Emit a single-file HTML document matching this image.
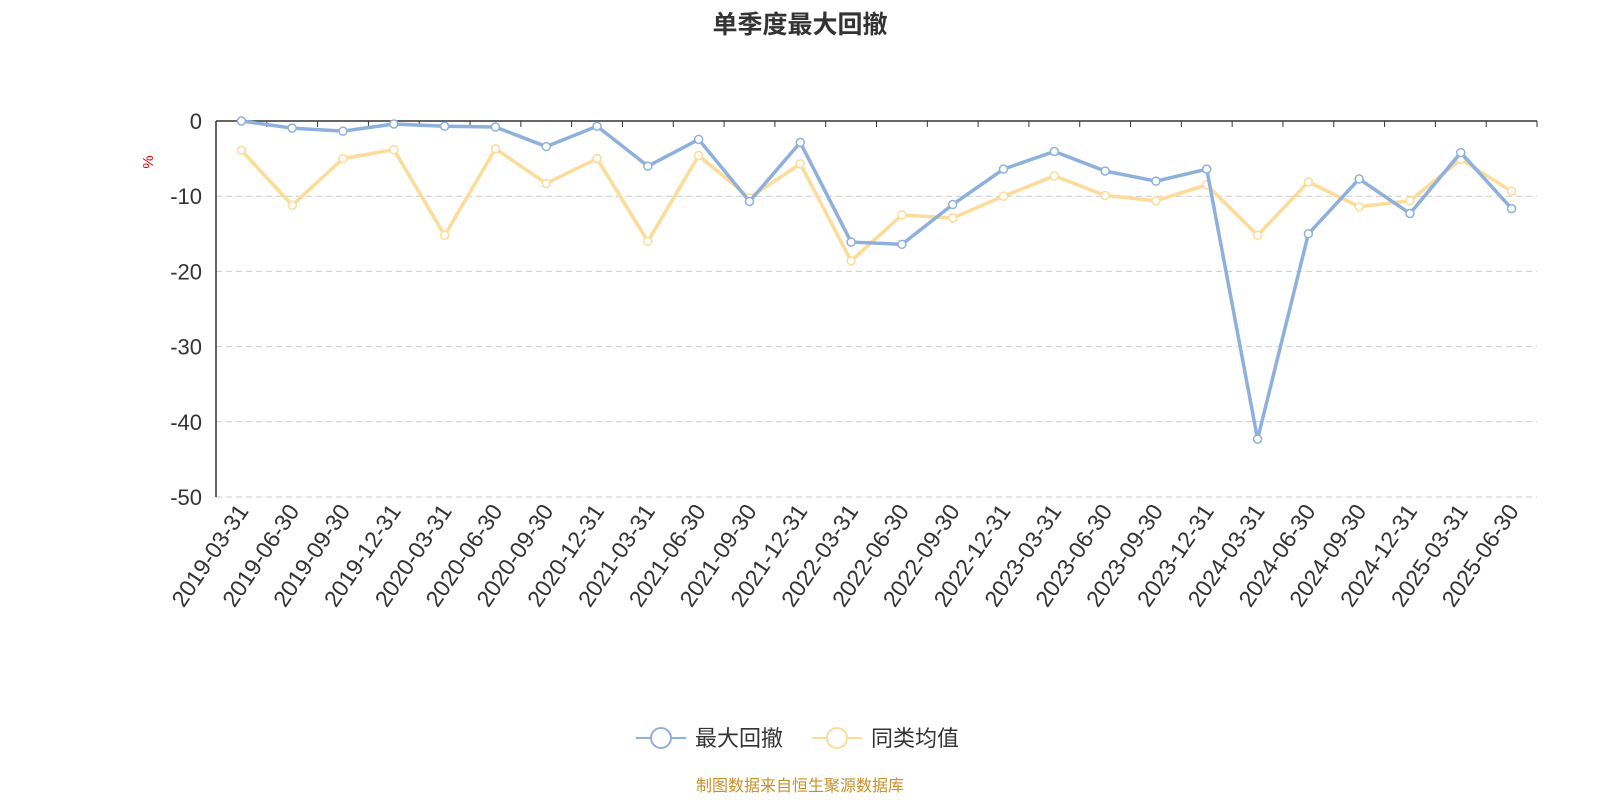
<!DOCTYPE html>
<html><head><meta charset="utf-8">
<style>
body{margin:0;background:#fff;}
svg{display:block;font-family:"Liberation Sans","Noto Sans CJK SC",sans-serif;}
</style></head>
<body>
<svg id="chart" width="1600" height="800" viewBox="0 0 1600 800">
<text x="800" y="33" text-anchor="middle" font-size="25" font-weight="bold" fill="#333">单季度最大回撤</text>
<text x="153" y="162" font-size="15" fill="#e00" transform="rotate(-90 153 162)" text-anchor="middle">%</text>
<g id="grid"></g><g id="axes"></g><g id="series"></g>
<g>
<g>
<line x1="636" y1="738" x2="686" y2="738" stroke="#8eb0dc" stroke-width="2"/>
<circle cx="661" cy="738" r="10" fill="#fff" stroke="#8eb0dc" stroke-width="2"/>
<text x="695" y="746" font-size="22" fill="#333">最大回撤</text></g>
<g>
<line x1="812" y1="738" x2="862" y2="738" stroke="#fddb98" stroke-width="2"/>
<circle cx="837" cy="738" r="10" fill="#fff" stroke="#fddb98" stroke-width="2"/>
<text x="871" y="746" font-size="22" fill="#333">同类均值</text></g>
</g>
<text x="800" y="791" text-anchor="middle" font-size="16" fill="#c9902a">制图数据来自恒生聚源数据库</text>
</svg>
<script>
const categories=["2019-03-31","2019-06-30","2019-09-30","2019-12-31","2020-03-31","2020-06-30","2020-09-30","2020-12-31","2021-03-31","2021-06-30","2021-09-30","2021-12-31","2022-03-31","2022-06-30","2022-09-30","2022-12-31","2023-03-31","2023-06-30","2023-09-30","2023-12-31","2024-03-31","2024-06-30","2024-09-30","2024-12-31","2025-03-31","2025-06-30"];
const maxDrawdown=[0,-0.95,-1.35,-0.4,-0.7,-0.8,-3.4,-0.7,-6.0,-2.45,-10.7,-2.85,-16.1,-16.4,-11.1,-6.4,-4.05,-6.65,-8.0,-6.4,-42.3,-15.0,-7.7,-12.3,-4.2,-11.65];
const peerAverage=[-3.9,-11.2,-5.0,-3.8,-15.2,-3.7,-8.3,-5.0,-16.0,-4.6,-10.2,-5.7,-18.6,-12.5,-12.9,-10.0,-7.3,-9.9,-10.6,-8.5,-15.2,-8.1,-11.4,-10.6,-5.1,-9.35];
const yTicks=[0,-10,-20,-30,-40,-50];
const NS="http://www.w3.org/2000/svg";
const L=216,R=1537,T=121,B=497;
const band=(R-L)/categories.length;
const xs=i=>L+band*(i+0.5);
const ys=v=>T+(0-v)/50*(B-T);
function mk(tag,attrs,parent){const e=document.createElementNS(NS,tag);for(const k in attrs)e.setAttribute(k,attrs[k]);parent.appendChild(e);return e;}
const grid=document.getElementById('grid'),axes=document.getElementById('axes'),series=document.getElementById('series');
yTicks.forEach(t=>{
 if(t!==0){const g=mk('line',{x1:L,x2:R,y1:ys(t),y2:ys(t),stroke:'#ccc','stroke-dasharray':'6,4'},grid);
 
 }
 const tx=mk('text',{x:L-14,y:ys(t)+8,'text-anchor':'end','font-size':22,fill:'#333'},axes);
 tx.textContent=t;
 
 
});
const ya=mk('line',{x1:L,x2:L,y1:T,y2:B,stroke:'#333','stroke-width':1.5},axes);


const xa=mk('line',{x1:L,x2:R,y1:T,y2:T,stroke:'#333','stroke-width':1.5},axes);


for(let i=0;i<=categories.length;i++){mk('line',{x1:L+band*i,x2:L+band*i,y1:T,y2:T+6,stroke:'#333'},axes);}
categories.forEach((c,i)=>{
 const x=xs(i)+8,y=B+14;
 const tx=mk('text',{x:x,y:y,'text-anchor':'end','font-size':23,fill:'#333',transform:`rotate(-56 ${x} ${y})`},axes);
 tx.textContent=c;
 
 
});
function draw(data,color,name){
 const p=mk('polyline',{points:data.map((v,i)=>xs(i)+','+ys(v)).join(' '),fill:'none',stroke:color,'stroke-width':3.5},series);
 
 
 data.forEach((v,i)=>{const c=mk('circle',{cx:xs(i),cy:ys(v),r:4,fill:'#fff',stroke:color,'stroke-width':1.5},series);
 
 });
}
draw(peerAverage,'#fddb98','peer-average');
draw(maxDrawdown,'#8eb0dc','max-drawdown');
</script>
</body></html>
